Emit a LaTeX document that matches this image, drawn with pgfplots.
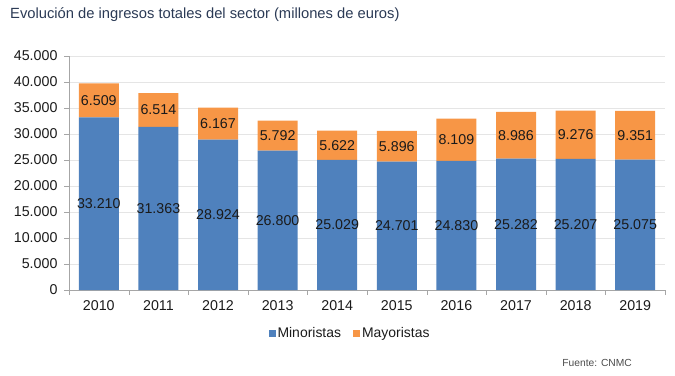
\documentclass[border=0pt]{standalone}
\usepackage{pgfplots}
\pgfplotsset{compat=1.18}
\usepackage{pgfplotstable}
\usepackage{fontspec}
\setmainfont{Liberation Sans}
\definecolor{minblue}{HTML}{4F81BD}
\definecolor{mayorange}{HTML}{F79646}
\definecolor{titlecol}{HTML}{2B3A55}
\definecolor{txt}{HTML}{1A1A1A}
\pgfplotstableread{
x year min may
0 2010 33210 6509
1 2011 31363 6514
2 2012 28924 6167
3 2013 26800 5792
4 2014 25029 5622
5 2015 24701 5896
6 2016 24830 8109
7 2017 25282 8986
8 2018 25207 9276
9 2019 25075 9351
}\datatable
\begin{document}
\begin{tikzpicture}[x=1bp,y=1bp]
\useasboundingbox (0,0) rectangle (675,375);
\node[anchor=west,font=\fontsize{14.8}{17}\selectfont,text=titlecol,inner sep=0] at (10,360) {Evolución de ingresos totales del sector (millones de euros)};
\node[anchor=east,font=\fontsize{10.3}{12}\selectfont,text=black!70,inner sep=0] at (632,12) {Fuente: CNMC};
\begin{axis}[
  at={(69bp,85bp)}, anchor=south west,
  scale only axis, width=596bp, height=234bp,
  ybar stacked, bar width=40bp,
  xmin=-0.5, xmax=9.5, ymin=0, ymax=45000,
  xtick=data, xticklabels={2010,2011,2012,2013,2014,2015,2016,2017,2018,2019},
  major x tick style={draw=none},
  minor xtick={-0.5,0.5,...,9.5},
  minor x tick style={draw=gray!70},
  ytick={0,5000,...,45000},
  scaled y ticks=false,
  /pgf/number format/.cd, 1000 sep={.}, assume math mode=true, /pgfplots/.cd,
  tick align=outside,
  major tick length=5bp, minor tick length=5bp,
  ymajorgrids, grid style={draw=black!10},
  axis x line*=bottom, axis y line*=left,
  axis line style={draw=gray!70,-},
  y tick style={draw=gray!70},
  tick label style={font=\fontsize{14.3}{16}\selectfont, text=txt},
  xticklabel style={yshift=-2bp},
  yticklabel style={xshift=-3bp},
  legend style={at={(0.4715,-0.184)}, anchor=center, legend columns=2, draw=none, fill=none,
     font=\fontsize{14}{16}\selectfont, text=txt, /tikz/every even column/.append style={column sep=10bp}},
  legend image code/.code={\fill[#1] (0bp,-3.5bp) rectangle (7bp,3.5bp);},
  nodes near coords={\pgfmathprintnumber[fixed,precision=0,1000 sep={.}]{\pgfplotspointmeta}},
  every node near coord/.append style={font=\fontsize{14.3}{16}\selectfont, text=txt, anchor=center},
]
\addplot[fill=minblue, draw=none, point meta=explicit]
  table[x=x, y=min, meta=min] {\datatable};
\addplot[fill=mayorange, draw=none, point meta=explicit]
  table[x=x, y=may, meta=may] {\datatable};
\legend{Minoristas, Mayoristas}
\end{axis}
\end{tikzpicture}
\end{document}
